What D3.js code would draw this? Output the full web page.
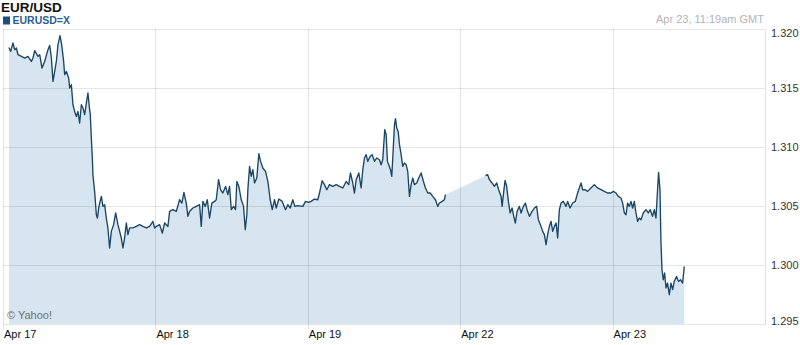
<!DOCTYPE html>
<html>
<head>
<meta charset="utf-8">
<script src="https://cdn.jsdelivr.net/npm/d3@7"></script>
<style>
    body { margin: 0; background: #fff; }
    svg { display: block; font-family: 'Liberation Sans', Arial, sans-serif; }
</style>
</head>
<body>
<div id="chart"></div>
<script>
'use strict';

// Labels
const title = 'EUR/USD';
const symbol = 'EURUSD=X';
const stamp = 'Apr 23, 11:19am GMT';
const credit = '\u00a9 Yahoo!';
const dayLabels = ['Apr 17', 'Apr 18', 'Apr 19', 'Apr 22', 'Apr 23'];
const rateTicks = [1.295, 1.300, 1.305, 1.310, 1.315, 1.320];

// Trading hours since Apr 17 00:00 GMT (weekend left out)
const hours = [
    0.94, 1.21, 1.57, 1.84, 2.11, 2.36, 2.90, 3.42, 3.93, 4.47, 4.72, 4.99, 5.51, 5.78, 6.14, 6.56, 7.08, 7.35, 7.62, 7.87,
    8.14, 8.40, 8.66, 8.97, 9.24, 9.55, 9.71, 9.98, 10.34, 10.50, 10.76, 11.02, 11.28, 11.55, 11.80, 12.07, 12.34, 12.59, 12.86, 13.13,
    13.38, 13.64, 13.75, 13.91, 14.07, 14.16, 14.43, 14.70, 14.86, 15.11, 15.49, 15.74, 16.01, 16.27, 16.52, 16.79, 17.06, 17.42, 17.74, 18.10,
    18.37, 18.63, 18.89, 19.15, 19.42, 19.67, 19.94, 20.46, 20.99, 21.51, 22.03, 22.57, 23.09, 23.61, 23.87,
    24.14, 24.66, 25.09, 25.45, 25.97, 26.24, 26.75, 27.29, 27.81, 28.17, 28.49, 28.86, 29.12, 29.38, 29.90, 30.44, 30.96, 31.22, 31.48, 31.85,
    32.17, 32.53, 32.89, 33.32, 33.58, 33.95, 34.26, 34.62, 35.05, 35.41, 35.68, 35.95, 36.31, 36.62, 36.83, 37.14, 37.52, 37.88, 38.15, 38.40,
    38.56, 38.83, 39.09, 39.35, 39.61, 39.97, 40.29, 40.56, 40.92, 41.34, 41.71, 42.08, 42.40, 42.76, 43.03, 43.44, 43.97, 44.49, 44.85, 45.23,
    45.64, 45.96, 46.43, 47.22, 47.64,
    48.16, 48.53, 49.05, 49.57, 49.84, 50.26, 50.62, 50.99, 51.41, 51.93, 52.47, 52.99, 53.51, 54.04, 54.45, 54.72, 55.08, 55.35, 55.62, 56.03,
    56.40, 56.66, 56.92, 57.19, 57.44, 57.82, 58.14, 58.50, 58.86, 59.28, 59.55, 59.80, 60.12, 60.34, 60.54, 60.75, 61.02, 61.22, 61.38, 61.65,
    61.81, 62.01, 62.23, 62.44, 62.70, 62.95, 63.22, 63.49, 63.74, 64.01, 64.27, 64.53, 64.79, 65.15, 65.47, 65.85, 66.21, 66.53, 66.89, 67.27,
    67.68, 68.10, 68.46, 68.73, 69.15, 69.52, 69.67,
    75.98, 76.33, 76.60, 77.02, 77.38, 77.75, 78.06, 78.44, 78.60, 78.80, 79.07, 79.32, 79.59, 79.86, 80.17, 80.49, 80.69, 80.96, 81.32, 81.59,
    81.95, 82.27, 82.53, 82.90, 83.32, 83.68, 84.04, 84.31, 84.63, 84.99, 85.26, 85.52, 85.77, 86.04, 86.31, 86.56, 86.83, 87.10, 87.35, 87.62,
    87.88, 88.24, 88.67, 88.92, 89.30, 89.71, 90.13, 90.49, 90.76, 91.03, 91.28, 91.70, 92.06, 92.60, 93.12, 93.64, 94.18, 94.70, 95.21, 95.75,
    96.11, 96.54, 96.90, 97.32, 97.58, 97.85, 98.11, 98.36, 98.63, 98.90, 99.15, 99.42, 99.68, 99.94, 100.20, 100.47, 100.83, 101.26, 101.62, 101.93,
    102.29, 102.56, 102.83, 103.08, 103.24, 103.46, 103.62, 103.78, 103.98, 104.19, 104.41, 104.66, 104.93, 105.19, 105.45, 105.71, 106.07, 106.39, 106.70, 107.02,
    107.29
];

// EUR/USD rate at each of those hours
const rates = [
    1.31844, 1.31810, 1.31881, 1.31825, 1.31839, 1.31782, 1.31768, 1.31754, 1.31768, 1.31725, 1.31754, 1.31816, 1.31768, 1.31782, 1.31669, 1.31725, 1.31825, 1.31861, 1.31754, 1.31556,
    1.31641, 1.31725, 1.31867, 1.31943, 1.31867, 1.31725, 1.31613, 1.31641, 1.31585, 1.31500, 1.31528, 1.31358, 1.31302, 1.31259, 1.31302, 1.31203, 1.31358, 1.31331, 1.31274, 1.31373,
    1.31458, 1.31316, 1.31274, 1.31076, 1.30907, 1.30765, 1.30624, 1.30426, 1.30398, 1.30497, 1.30581, 1.30497, 1.30511, 1.30398, 1.30314, 1.30144, 1.30285, 1.30342, 1.30441, 1.30342,
    1.30285, 1.30229, 1.30144, 1.30229, 1.30356, 1.30257, 1.30314, 1.30314, 1.30327, 1.30342, 1.30327, 1.30314, 1.30327, 1.30370, 1.30314,
    1.30327, 1.30342, 1.30271, 1.30356, 1.30327, 1.30454, 1.30469, 1.30454, 1.30553, 1.30525, 1.30615, 1.30525, 1.30412, 1.30454, 1.30483, 1.30497, 1.30511, 1.30327, 1.30539, 1.30497,
    1.30553, 1.30398, 1.30525, 1.30539, 1.30553, 1.30723, 1.30638, 1.30610, 1.30666, 1.30596, 1.30666, 1.30469, 1.30497, 1.30469, 1.30708, 1.30666, 1.30553, 1.30497, 1.30299, 1.30426,
    1.30638, 1.30836, 1.30751, 1.30808, 1.30695, 1.30737, 1.30943, 1.30878, 1.30822, 1.30793, 1.30708, 1.30553, 1.30469, 1.30553, 1.30483, 1.30559, 1.30539, 1.30469, 1.30511, 1.30483,
    1.30553, 1.30497, 1.30503, 1.30497, 1.30539,
    1.30531, 1.30539, 1.30559, 1.30553, 1.30610, 1.30714, 1.30681, 1.30638, 1.30681, 1.30666, 1.30681, 1.30666, 1.30653, 1.30708, 1.30681, 1.30780, 1.30695, 1.30610, 1.30723, 1.30780,
    1.30653, 1.30808, 1.30907, 1.30935, 1.30878, 1.30920, 1.30935, 1.30878, 1.30907, 1.30892, 1.30850, 1.30892, 1.31147, 1.31104, 1.30878, 1.30850, 1.30808, 1.30751, 1.30907, 1.31189,
    1.31240, 1.31161, 1.31132, 1.31020, 1.30935, 1.30836, 1.30864, 1.30850, 1.30793, 1.30581, 1.30681, 1.30737, 1.30681, 1.30695, 1.30737, 1.30780, 1.30708, 1.30653, 1.30610, 1.30610,
    1.30581, 1.30553, 1.30497, 1.30525, 1.30539, 1.30553, 1.30596,
    1.30757, 1.30765, 1.30723, 1.30695, 1.30666, 1.30695, 1.30638, 1.30581, 1.30497, 1.30596, 1.30717, 1.30666, 1.30539, 1.30441, 1.30483, 1.30398, 1.30356, 1.30454, 1.30497, 1.30441,
    1.30497, 1.30525, 1.30469, 1.30412, 1.30454, 1.30483, 1.30497, 1.30384, 1.30342, 1.30285, 1.30257, 1.30172, 1.30257, 1.30327, 1.30370, 1.30285, 1.30327, 1.30356, 1.30229, 1.30469,
    1.30525, 1.30539, 1.30497, 1.30539, 1.30483, 1.30525, 1.30539, 1.30610, 1.30653, 1.30695, 1.30638, 1.30638, 1.30624, 1.30653, 1.30681, 1.30653, 1.30638, 1.30624, 1.30610, 1.30610,
    1.30624, 1.30610, 1.30581, 1.30568, 1.30525, 1.30441, 1.30426, 1.30525, 1.30497, 1.30539, 1.30483, 1.30539, 1.30441, 1.30370, 1.30398, 1.30384, 1.30441, 1.30469, 1.30441, 1.30469,
    1.30412, 1.30469, 1.30398, 1.30638, 1.30785, 1.30638, 1.30186, 1.29960, 1.29875, 1.29932, 1.29805, 1.29847, 1.29748, 1.29847, 1.29791, 1.29861, 1.29903, 1.29861, 1.29875, 1.29847,
    1.29988
];

class Quote {

    // Configs
    w = 800;
    h = 345;

    constructor(_ref) {
        this.parent = _ref;
        this.data = hours.map((d, i) => ({t: d, v: rates[i]}));
        this.initVis();
    }

    initVis() {
        // Get this vis
        const vis = this;

        vis.svg = d3.select(`#${vis.parent}`)
            .append('svg')
            .attr('width', vis.w)
            .attr('height', vis.h);

        // Plot box
        vis.box = {left: 3, right: 765, top: 29, bottom: 324};

        // Scales
        vis.x = d3.scaleLinear()
            .domain([0, dayLabels.length * 24])
            .range([vis.box.left, vis.box.right]);
        vis.y = d3.scaleLinear()
            .domain(d3.extent(rateTicks))
            .range([vis.box.bottom, vis.box.top]);

        vis.drawHeader();
        vis.drawSeries();
        vis.drawGrid();
    }

    /*
    drawHeader
     */
    drawHeader() {
        const vis = this;

        vis.svg.append('text')
            .attr('x', 1)
            .attr('y', 12)
            .attr('font-size', 13.5)
            .attr('font-weight', 'bold')
            .attr('fill', '#111')
            .text(title);

        vis.svg.append('rect')
            .attr('x', 3)
            .attr('y', 16.5)
            .attr('width', 7)
            .attr('height', 8)
            .attr('fill', '#1d4f7d');
        vis.svg.append('text')
            .attr('x', 12.5)
            .attr('y', 24.3)
            .attr('font-size', 10.5)
            .attr('font-weight', 'bold')
            .attr('fill', '#2a5f8e')
            .text(symbol);

        vis.svg.append('text')
            .attr('x', 764)
            .attr('y', 23)
            .attr('text-anchor', 'end')
            .attr('font-size', 11)
            .attr('fill', '#b3b3b3')
            .text(stamp);
    }

    /*
    drawSeries
     */
    drawSeries() {
        const vis = this;

        // Area runs through the weekend gap
        const area = d3.area()
            .x(d => vis.x(d.t))
            .y0(vis.y(rateTicks[0]))
            .y1(d => vis.y(d.v));
        vis.svg.append('path')
            .datum(vis.data)
            .attr('d', area)
            .attr('fill', '#d6e5f0');

        // Line breaks where trading stops
        const sessions = [];
        vis.data.forEach((d, i) => {
            if (i === 0 || d.t - vis.data[i - 1].t > 3) sessions.push([]);
            sessions[sessions.length - 1].push(d);
        });
        const line = d3.line()
            .x(d => vis.x(d.t))
            .y(d => vis.y(d.v));
        vis.svg.append('g')
            .selectAll('path')
            .data(sessions)
            .join('path')
            .attr('d', line)
            .attr('fill', 'none')
            .attr('stroke', '#1b4565')
            .attr('stroke-width', 1.35)
            .attr('stroke-linejoin', 'round');
    }

    /*
    drawGrid
     */
    drawGrid() {
        const vis = this;
        const crisp = v => Math.round(v) + 0.5;
        const grid = vis.svg.append('g').attr('class', 'grid');

        // Horizontal lines and rate labels
        grid.selectAll('line.h')
            .data(rateTicks)
            .join('line')
            .attr('class', 'h')
            .attr('x1', vis.box.left)
            .attr('x2', vis.box.right)
            .attr('y1', d => crisp(vis.y(d)))
            .attr('y2', d => crisp(vis.y(d)))
            .attr('stroke', 'rgba(0,0,0,0.1)');
        grid.selectAll('text.rate')
            .data(rateTicks)
            .join('text')
            .attr('class', 'rate')
            .attr('x', 771)
            .attr('y', d => Math.min(Math.max(vis.y(d), vis.box.top + 4.5), vis.box.bottom - 3))
            .attr('dy', '0.35em')
            .attr('font-size', 11)
            .attr('fill', '#333')
            .text(d3.format('.3f'));

        // Vertical day lines and labels
        const days = dayLabels.map((d, i) => ({label: d, t: i * 24}));
        grid.selectAll('line.v')
            .data(days)
            .join('line')
            .attr('class', 'v')
            .attr('x1', d => crisp(vis.x(d.t)))
            .attr('x2', d => crisp(vis.x(d.t)))
            .attr('y1', vis.box.top)
            .attr('y2', vis.box.bottom + 5)
            .attr('stroke', 'rgba(0,0,0,0.11)');
        grid.selectAll('text.day')
            .data(days)
            .join('text')
            .attr('class', 'day')
            .attr('x', d => vis.x(d.t) + 1)
            .attr('y', 338)
            .attr('font-size', 11)
            .attr('fill', '#111')
            .text(d => d.label);

        // Right border
        grid.append('line')
            .attr('x1', crisp(vis.box.right))
            .attr('x2', crisp(vis.box.right))
            .attr('y1', vis.box.top)
            .attr('y2', vis.box.bottom + 1)
            .attr('stroke', 'rgba(0,0,0,0.12)');

        // Credit
        vis.svg.append('text')
            .attr('x', 7)
            .attr('y', 319)
            .attr('font-size', 11)
            .attr('fill', '#6f6f6f')
            .text(credit);
    }
}

new Quote('chart');
</script>
</body>
</html>
